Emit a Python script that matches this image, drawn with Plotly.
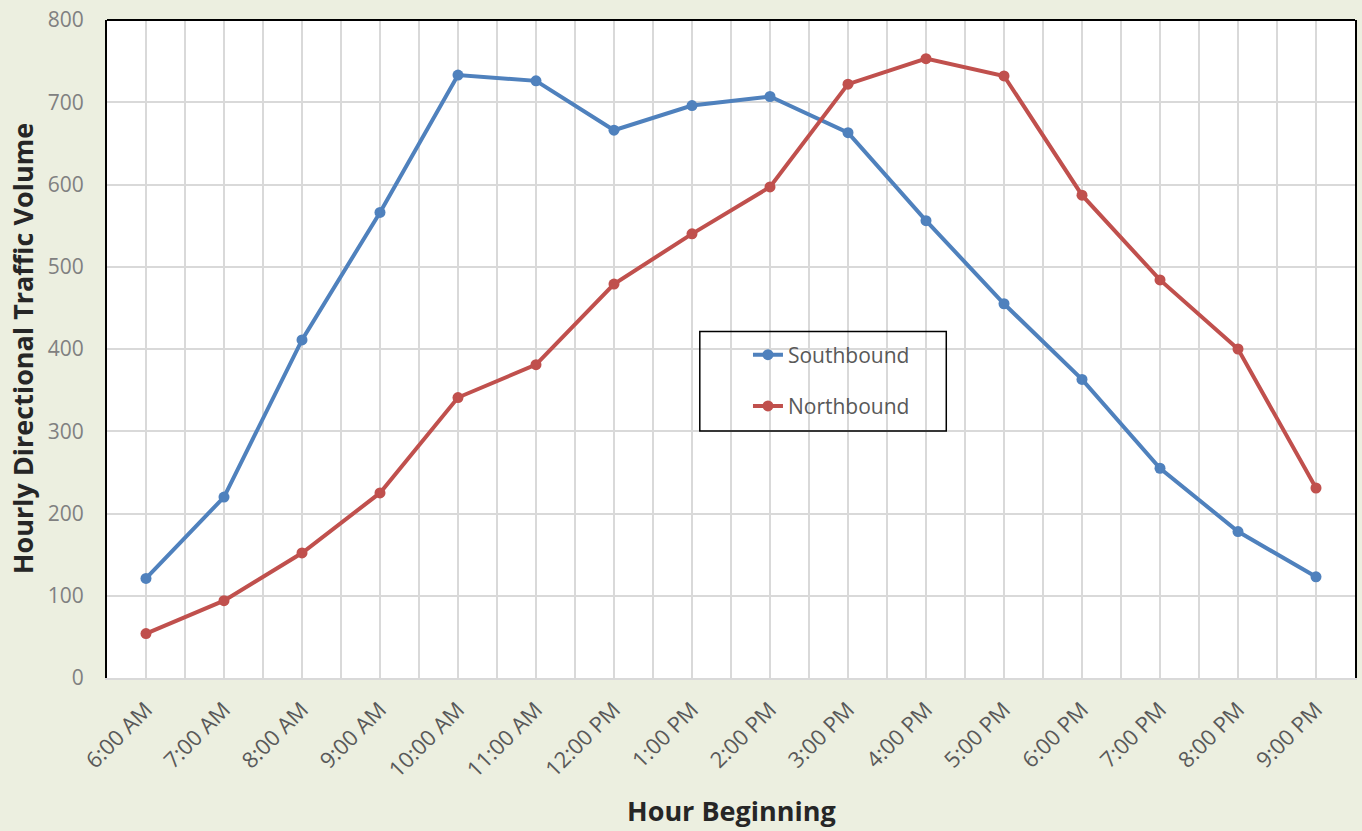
import plotly.graph_objects as go

hours = ["6:00 AM", "7:00 AM", "8:00 AM", "9:00 AM", "10:00 AM", "11:00 AM",
         "12:00 PM", "1:00 PM", "2:00 PM", "3:00 PM", "4:00 PM", "5:00 PM",
         "6:00 PM", "7:00 PM", "8:00 PM", "9:00 PM"]
southbound = [121, 220, 411, 566, 733, 726, 666, 696, 707, 663, 556, 455, 363, 255, 178, 123]
northbound = [54, 94, 152, 225, 341, 381, 479, 540, 597, 722, 753, 732, 587, 484, 400, 231]
y_ticks = [0, 100, 200, 300, 400, 500, 600, 700, 800]

xpos = list(range(len(hours)))
FONT = "'Open Sans', Lato, sans-serif"

fig = go.Figure()
fig.add_trace(go.Scatter(x=xpos, y=southbound, name="Southbound", mode="lines+markers",
                         line=dict(color="#4F81BD", width=4),
                         marker=dict(size=11, color="#4F81BD"), legendgroup="s"))
fig.add_trace(go.Scatter(x=xpos, y=northbound, name="Northbound", mode="lines+markers",
                         line=dict(color="#C0504D", width=4),
                         marker=dict(size=11, color="#C0504D"), legendgroup="n"))

fig.update_layout(
    width=1362, height=831,
    margin=dict(l=107, r=5, t=17, b=153),
    paper_bgcolor="#ECEFE0", plot_bgcolor="white",
    font=dict(family=FONT),
    legend=dict(x=0.5136, y=0.522, xanchor="left", yanchor="top",
                bgcolor="rgba(0,0,0,0)", font=dict(size=21, color="#595959"),
                tracegroupgap=21, traceorder="grouped"),
    shapes=[
        dict(type="rect", xref="paper", yref="paper", x0=0.475, x1=0.6725,
             y0=0.3752, y1=0.5265, line=dict(color="black", width=1.5)),
        dict(type="line", xref="paper", yref="paper", x0=0, x1=1, y0=1, y1=1,
             line=dict(color="black", width=2)),
    ],
    annotations=[
        dict(text="<b>Hour Beginning</b>", xref="paper", yref="paper", x=0.5, y=-0.201,
             xanchor="center", yanchor="middle", showarrow=False,
             font=dict(size=27, color="#262626")),
        dict(text="<b>Hourly Directional Traffic Volume</b>", xref="paper", yref="paper",
             x=-0.068, y=0.5, xanchor="center", yanchor="middle", textangle=-90,
             showarrow=False, font=dict(size=27, color="#262626")),
    ],
)
fig.update_xaxes(
    range=[-0.5, 15.5], tickvals=xpos, ticktext=hours, tickangle=-45,
    tickfont=dict(size=22, color="#595959"), ticklabelstandoff=8,
    showgrid=True, gridcolor="#D9D9D9", gridwidth=2,
    minor=dict(dtick=0.5, tick0=0.5, showgrid=True, gridcolor="#D9D9D9", gridwidth=2),
    showline=True, linecolor="#D9D9D9", linewidth=2, zeroline=False,
    ticks="", ticklen=0,
)
fig.update_yaxes(
    range=[0, 800], tickvals=y_ticks,
    tickfont=dict(size=21, color="#808080"), ticklabelstandoff=17,
    showgrid=True, gridcolor="#D9D9D9", gridwidth=2,
    showline=True, linecolor="black", linewidth=2, mirror=True, zeroline=False,
    ticks="", ticklen=0,
)

fig.write_html("out.html", post_script="document.body.style.margin='0';",
               config={"displayModeBar": False})
